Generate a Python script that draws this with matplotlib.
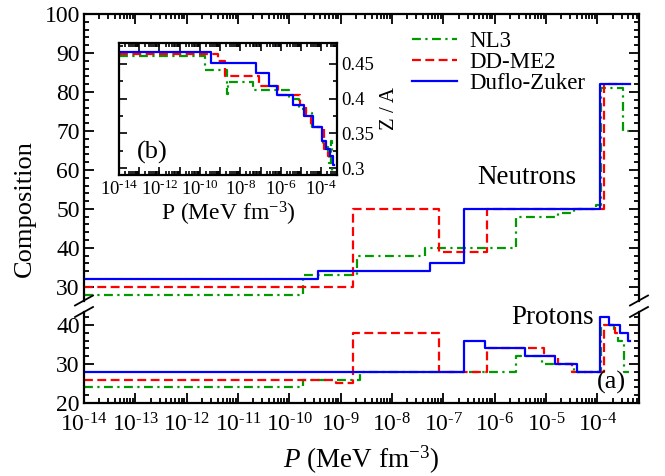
import numpy as np
import matplotlib
matplotlib.use('Agg')
import matplotlib.pyplot as plt
from matplotlib.lines import Line2D
from matplotlib.ticker import LogLocator, FixedLocator, MultipleLocator, FuncFormatter, NullFormatter

plt.rcParams['font.family'] = ['Liberation Serif', 'DejaVu Serif']
plt.rcParams['mathtext.fontset'] = 'custom'
plt.rcParams['mathtext.rm'] = 'Liberation Serif'
plt.rcParams['mathtext.it'] = 'Liberation Serif:italic'
plt.rcParams['mathtext.bf'] = 'Liberation Serif:bold'

# segment edges in log10(P / MeV fm^-3), then neutron (N) and proton (Z) number per segment
logp_nl3 = [-14, -9.74, -8.68, -8.62, -7.36, -5.58, -5.08, -4.76, -4.45, -4.02, -3.92, -3.68, -3.60, -3.50, -3.47, -3.38]
n_nl3 = [28, 33, 38, 38, 40, 48, 48, 49, 50, 51, 81, 81, 81, 70, 70]
z_nl3 = [24, 26, 26, 28, 28, 32, 30, 30, 28, 28, 40, 38, 36, 36, 28]

logp_ddme2 = [-14, -9.10, -8.75, -7.09, -6.15, -5.03, -4.76, -4.50, -3.87, -3.65, -3.50]
n_ddme2 = [30, 30, 50, 39, 50, 50, 50, 50, 82, 82]
z_ddme2 = [26, 25, 38, 28, 34, 32, 30, 28, 40, 38]

logp_dz = [-14, -9.45, -7.25, -6.60, -6.19, -5.41, -4.83, -4.39, -3.94, -3.78, -3.55, -3.40, -3.36]
n_dz = [32, 34, 36, 50, 50, 50, 50, 50, 82, 82, 82, 82]
z_dz = [28, 28, 28, 36, 34, 32, 30, 28, 42, 40, 38, 36]

models = [
    ('NL3', logp_nl3, n_nl3, z_nl3, dict(color='#009a00', ls=(0, (4, 2, 1, 2)))),
    ('DD-ME2', logp_ddme2, n_ddme2, z_ddme2, dict(color='#ff0000', ls=(0, (4, 2)))),
    ('Duflo-Zuker', logp_dz, n_dz, z_dz, dict(color='#0000ff', ls='-')),
]

W, H = 665, 476


def fx(px):
    return px / W


def fy(py):
    return 1 - py / H


def steps(ax, logp, vals, **kw):
    p = 10.0 ** np.asarray(logp)
    v = np.append(vals, vals[-1])
    return ax.step(p, v, where='post', lw=1.6, **kw)


def pow_label(v, pos, every=1):
    e = int(round(np.log10(v)))
    if e % every:
        return ''
    if e < 0:
        return r'$10^{\text{-}%d}$' % (-e)
    return r'$10^{%d}$' % e


def log_ticks(ax):
    ax.set_xscale('log')
    ax.xaxis.set_major_locator(LogLocator(base=10, numticks=30))
    ax.xaxis.set_minor_locator(LogLocator(base=10, subs=np.arange(2, 10), numticks=100))
    ax.xaxis.set_major_formatter(FuncFormatter(pow_label))
    ax.xaxis.set_minor_formatter(NullFormatter())


fig = plt.figure(figsize=(W / 100, H / 100), dpi=100)
L, R = 84, 639
top = fig.add_axes([fx(L), fy(300.5), fx(R - L), (300.5 - 14) / H])
bot = fig.add_axes([fx(L), fy(403), fx(R - L), (403 - 312) / H])

handles = []
for name, lp, n, z, st in models:
    h, = steps(top, lp, n, label=name, **st)
    steps(bot, lp, z, **st)
    handles.append(h)

for ax in (top, bot):
    log_ticks(ax)
    ax.set_xlim(1e-14, 6.5e-4)
    ax.yaxis.set_major_locator(MultipleLocator(10))
    ax.yaxis.set_minor_locator(MultipleLocator(2))
    ax.tick_params(which='both', direction='in', left=True, right=True, width=1.3, labelsize=17)
    ax.tick_params(which='major', length=7)
    ax.tick_params(which='minor', length=3.5)
    for s in ax.spines.values():
        s.set_linewidth(1.6)

top.set_ylim(26.5, 100)
bot.set_ylim(20, 43.3)
top.spines['bottom'].set_visible(False)
bot.spines['top'].set_visible(False)
top.tick_params(which='both', bottom=False, top=True, labelbottom=False)
bot.tick_params(which='both', top=False, bottom=True)
bot.tick_params(axis='x', pad=7.5)
bot.tick_params(axis='y', pad=3)
top.tick_params(axis='y', pad=3)

# break marks on both spines
for xp in (L, R):
    for yp in (300.5, 312):
        fig.add_artist(Line2D([fx(xp - 9), fx(xp + 9)], [fy(yp + 5), fy(yp - 5)],
                              color='k', lw=1.3, transform=fig.transFigure))

fig.text(fx(25), fy(208.5), 'Composition', rotation=90, ha='center', va='center', fontsize=19)
fig.text(fx(361), fy(460), r'$P$ (MeV fm$^{-3}$)', ha='center', va='center', fontsize=19.5)
fig.text(fx(527), fy(178), 'Neutrons', ha='center', va='center', fontsize=19.5)
fig.text(fx(553), fy(318), 'Protons', ha='center', va='center', fontsize=19.5)
fig.text(fx(611), fy(382), '(a)', ha='center', va='center', fontsize=19)

top.legend(handles=handles, loc='upper left', bbox_to_anchor=(fx(412), fy(31)),
           bbox_transform=fig.transFigure, frameon=False, fontsize=16.5,
           handlelength=1.95, handletextpad=0.54, labelspacing=0.0, borderpad=0,
           borderaxespad=0)

# inset: Z/A
ins = fig.add_axes([fx(119), fy(175), fx(337 - 119), 132 / H])
for name, lp, n, z, st in models:
    za = np.asarray(z) / (np.asarray(n) + np.asarray(z))
    steps(ins, lp, za, **st)
ins.set_xscale('log')
ins.set_xlim(1e-14, 6e-4)
ins.set_ylim(0.29, 0.48)
ins.xaxis.set_major_locator(FixedLocator(10.0 ** np.arange(-14, -3)))
ins.xaxis.set_minor_locator(LogLocator(base=10, subs=np.arange(2, 10), numticks=100))
ins.xaxis.set_minor_formatter(NullFormatter())
ins.xaxis.set_major_formatter(FuncFormatter(lambda v, pos: pow_label(v, pos, every=2)))
ins.yaxis.set_major_locator(MultipleLocator(0.05))
ins.yaxis.set_minor_locator(MultipleLocator(0.025))
ins.yaxis.set_major_formatter(FuncFormatter(lambda v, pos: '%g' % round(v, 3)))
ins.tick_params(which='both', direction='in', left=True, right=True, top=True, bottom=True,
                labelleft=False, labelright=True, width=1.2, pad=3)
ins.tick_params(axis='x', labelsize=13.5)
ins.tick_params(axis='y', labelsize=13.5)
ins.tick_params(which='major', length=6)
ins.tick_params(which='minor', length=3)
for s in ins.spines.values():
    s.set_linewidth(1.6)
ins.yaxis.set_label_position('right')
ins.set_ylabel('Z / A', fontsize=15, labelpad=4)
ins.set_xlabel('P (MeV fm$^{-3}$)', fontsize=17, labelpad=1)
ins.text(0.151, 0.174, '(b)', transform=ins.transAxes, ha='center', va='center', fontsize=19)

fig.savefig('out.png', dpi=100)
